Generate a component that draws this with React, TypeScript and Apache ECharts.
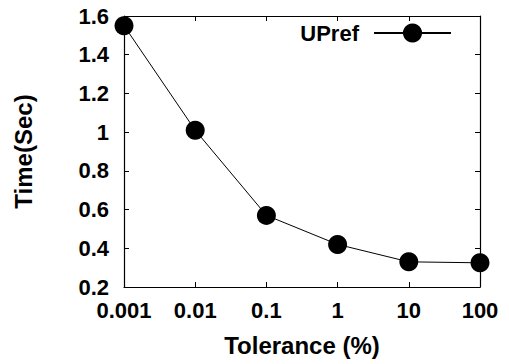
import React, { useEffect, useRef } from "react";
import * as echarts from "echarts";

const categories = ["0.001", "0.01", "0.1", "1", "10", "100"];
const upref = [1.55, 1.01, 0.57, 0.42, 0.33, 0.325];
const seriesName = "UPref";
const xTitle = "Tolerance (%)";
const yTitle = "Time(Sec)";

const FONT = "'Liberation Sans', Arial, Helvetica, sans-serif";

export default function App() {
  const ref = useRef<HTMLDivElement>(null);
  useEffect(() => {
    if (!ref.current) return;
    const chart = echarts.init(ref.current, null, { renderer: "svg" });
    const axisLine = { show: true, lineStyle: { color: "#000", width: 1.2 } };
    const tick = { show: true, inside: true, length: 5, interval: 0, lineStyle: { color: "#000", width: 1 } };
    chart.setOption({
      animation: false,
      backgroundColor: "#fff",
      textStyle: { fontFamily: FONT },
      grid: { left: 124, right: 29, top: 16, bottom: 77, containLabel: false },
      legend: {
        show: true,
        data: [seriesName],
        right: 52,
        top: 17,
        align: "right",
        itemWidth: 77,
        itemHeight: 24,
        textStyle: { fontFamily: FONT, fontWeight: "bold", fontSize: 22, color: "#000", padding: [0, 10, 0, 0] },
      },
      xAxis: [
        {
          type: "category",
          data: categories,
          boundaryGap: false,
          position: "bottom",
          axisLine,
          axisTick: { ...tick, alignWithLabel: true },
          axisLabel: { show: true, interval: 0, hideOverlap: false, color: "#000", fontSize: 22, fontWeight: "bold", fontFamily: FONT, margin: 12 },
          splitLine: { show: false },
          name: xTitle,
          nameLocation: "middle",
          nameGap: 46,
          nameTextStyle: { fontSize: 24, fontWeight: "bold", color: "#000", fontFamily: FONT },
        },
        {
          type: "category",
          data: categories,
          boundaryGap: false,
          position: "top",
          axisLine,
          axisTick: tick,
          axisLabel: { show: false, interval: 0 },
          splitLine: { show: false },
        },
      ],
      yAxis: [
        {
          type: "value",
          min: 0.2,
          max: 1.6,
          interval: 0.2,
          position: "left",
          axisLine,
          axisTick: tick,
          axisLabel: { show: true, color: "#000", fontSize: 22, fontWeight: "bold", fontFamily: FONT, margin: 15 },
          splitLine: { show: false },
          name: yTitle,
          nameLocation: "middle",
          nameGap: 89,
          nameTextStyle: { fontSize: 24, fontWeight: "bold", color: "#000", fontFamily: FONT },
        },
        {
          type: "value",
          min: 0.2,
          max: 1.6,
          interval: 0.2,
          position: "right",
          axisLine,
          axisTick: tick,
          axisLabel: { show: false },
          splitLine: { show: false },
        },
      ],
      series: [
        {
          name: seriesName,
          type: "line",
          data: upref,
          xAxisIndex: 0,
          yAxisIndex: 0,
          symbol: "circle",
          symbolSize: 19,
          showSymbol: true,
          smooth: false,
          lineStyle: { color: "#000", width: 1 },
          itemStyle: { color: "#000", borderWidth: 0 },
          emphasis: { disabled: true },
        },
      ],
    });
    return () => chart.dispose();
  }, []);
  return <div ref={ref} style={{ width: 509, height: 364, position: "absolute", left: 0, top: 0 }} />;
}
